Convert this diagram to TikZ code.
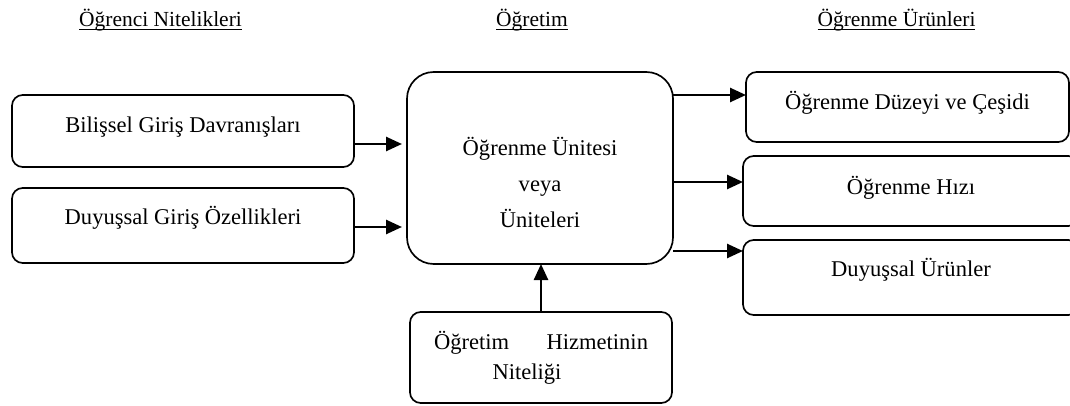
\documentclass[tikz,border=0pt]{standalone}
\usepackage{fontspec}
\setmainfont{Liberation Serif}
\usetikzlibrary{arrows.meta}
\newcommand{\boxfont}{\fontsize{16.9pt}{27pt}\selectfont}
\tikzset{
    box/.style={draw, line width=1.25pt, rounded corners=8pt, outer sep=0pt, inner sep=0pt},
    link/.style={line width=1.9pt, -{Triangle[length=12pt,width=10.5pt]}},
    head/.style={font=\fontsize{16.1pt}{19pt}\selectfont, anchor=base},
}
\begin{document}
\begin{tikzpicture}[x=0.75pt,y=-0.75pt]
            \clip (0,0) rectangle (1070,406);
            % column titles
            \node[head] (hstudent) at (160.5,27) {\underline{\smash{Öğrenci Nitelikleri}}};
            \node[head] (hteach) at (532,27) {\underline{\smash{Öğretim}}};
            \node[head] (hresult) at (896.5,27) {\underline{\smash{Öğrenme Ürünleri}}};
            \begin{scope}[every node/.style={box}]
                \node[minimum width=256.5pt, minimum height=54pt] (bil) at (183,131) {};
                \node[minimum width=256.5pt, minimum height=56.25pt] (duy) at (183,225.5) {};
                \node[minimum width=199.5pt, minimum height=144pt, rounded corners=20pt] (unit) at (540,168) {};
                \node[minimum width=242.25pt, minimum height=52.5pt] (duz) at (907.5,107) {};
                \node[minimum width=252pt, minimum height=52.5pt] (hiz) at (911,191) {};
                \node[minimum width=252pt, minimum height=56.25pt] (urun) at (911,277.5) {};
                \node[minimum width=196.5pt, minimum height=68.25pt] (nit) at (541,357.5) {};
            \end{scope}
            \begin{scope}[every node/.style={font=\boxfont, align=center}]
                \node (biltext) at ([yshift=3pt]bil.center) {Bilişsel Giriş Davranışları};
                \node (duytext) at ([yshift=5.5pt]duy.center) {Duyuşsal Giriş Özellikleri};
                \node (unittext) at ([yshift=-10.5pt]unit.center) {Öğrenme Ünitesi\\veya\\Üniteleri};
                \node (duztext) at ([yshift=3pt]duz.center) {Öğrenme Düzeyi ve Çeşidi};
                \node (hiztext) at ([yshift=2.5pt]hiz.center) {Öğrenme Hızı};
                \node (uruntext) at ([yshift=5.5pt]urun.center) {Duyuşsal Ürünler};
                \node[font=\fontsize{16.9pt}{22.5pt}\selectfont] (nittext) at (nit.center)
                    {\makebox[160.5pt]{Öğretim\hfill Hizmetinin}\\\hspace*{-21pt}Niteliği};
            \end{scope}
            \begin{scope}[every path/.style={link}]
                \path (bil.east |- 0,144) edge [shorten >=3.75pt] (unit.west |- 0,144);
                \path (duy.east |- 0,227) edge [shorten >=3.75pt] (unit.west |- 0,227);
                \path (unit.east |- 0,95) edge (duz.west |- 0,95);
                \path (unit.east |- 0,182) edge (hiz.west |- 0,182);
                \path (unit.east |- 0,251) edge (urun.west |- 0,251);
                \path (nit.north) edge (unit.south -| nit.north);
            \end{scope}
        \end{tikzpicture}
\end{document}
